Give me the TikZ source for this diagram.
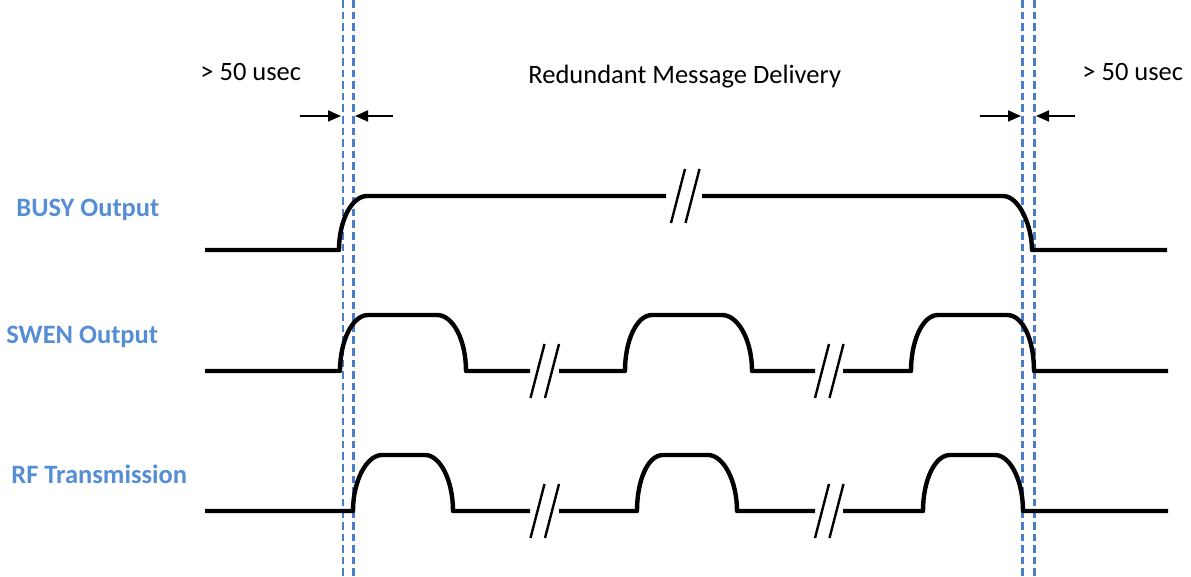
\documentclass[tikz,border=0pt]{standalone}
\usepackage{fontspec}
\setmainfont{Carlito}
\usetikzlibrary{arrows.meta}
\definecolor{sigblue}{HTML}{558ED5}
\definecolor{markblue}{HTML}{4A7EC6}
\tikzset{
  wave/.style={line width=2.2pt, line join=round},
  cut/.style={line width=1.2pt},
  marker/.style={markblue, line width=1.2pt, dash pattern=on 3.8pt off 2pt},
  gaparrow/.style={line width=0.9pt, -{Triangle[length=6.5pt,width=5.5pt]}},
  siglabel/.style={anchor=base west, text=sigblue, inner sep=0pt,
    font=\fontsize{13.25}{16}\selectfont\bfseries},
  note/.style={anchor=base west, inner sep=0pt, font=\fontsize{13.25}{16}\selectfont}
}
\begin{document}
\begin{tikzpicture}[x=0.5pt, y=-0.5pt]
  \useasboundingbox (0,0) rectangle (1191,577);

  % Draw labels
  \node[siglabel] (busy) at (16,216.7) {BUSY Output};
  \node[siglabel] (swen) at (6,344) {SWEN Output};
  \node[siglabel] (rf) at (11,483.3) {RF Transmission};
  \node[note] (gapL) at (200,81) {> 50 usec};
  \node[note] (gapR) at (1082,81) {> 50 usec};
  \node[note] (redund) at (528,84) {Redundant Message Delivery};

  % Draw dashed markers
  \foreach \x in {343,353.5,1022.5,1034.5}
    \draw[marker] (\x,0) -- (\x,577);

  % Draw arrows
  \coordinate (inL) at (300,116);
  \coordinate (inLtip) at (341,116);
  \coordinate (outL) at (393,116);
  \coordinate (outLtip) at (355,116);
  \coordinate (inR) at (980,116);
  \coordinate (inRtip) at (1021,116);
  \coordinate (outR) at (1075,116);
  \coordinate (outRtip) at (1036,116);
  \draw[gaparrow] (inL) -- (inLtip);
  \draw[gaparrow] (outL) -- (outLtip);
  \draw[gaparrow] (inR) -- (inRtip);
  \draw[gaparrow] (outR) -- (outRtip);

  % Draw BUSY output
  \draw[wave] (205,250) -- (339,250) .. controls (339,220) and (352,196) .. (367,196) -- (666,196);
  \draw[wave] (702,196) -- (1003,196) .. controls (1019,196) and (1032,226) .. (1032,250) -- (1167,250);

  % Draw SWEN output
  \foreach \s/\a/\b/\c/\d/\e in {205/340/368/437/466/530, 559/625/652/722/752/815, 843/911/938/1007/1034/1168}
    \draw[wave] (\s,371) -- (\a,371) .. controls (\a,340) and ({\b-15},315) .. (\b,315)
      -- (\c,315) .. controls ({\c+16},315) and (\d,340) .. (\d,371) -- (\e,371);

  % Draw RF transmission
  \foreach \s/\a/\b/\c/\d/\e in {205/353/382/425/453/530, 559/637/663/708/737/815, 843/923/950/995/1023/1168}
    \draw[wave] (\s,511) -- (\a,511) .. controls (\a,480) and ({\b-15},455) .. (\b,455)
      -- (\c,455) .. controls ({\c+15},455) and (\d,480) .. (\d,511) -- (\e,511);

  % Draw breaks
  \foreach \cx/\cy in {685/196, 544.5/371, 829/371, 544.5/511, 829/511} {
    \draw[cut] ({\cx-14},{\cy+27}) -- (\cx,{\cy-27});
    \draw[cut] ({\cx+0.5},{\cy+27}) -- ({\cx+14.5},{\cy-27});
  }
\end{tikzpicture}
\end{document}
